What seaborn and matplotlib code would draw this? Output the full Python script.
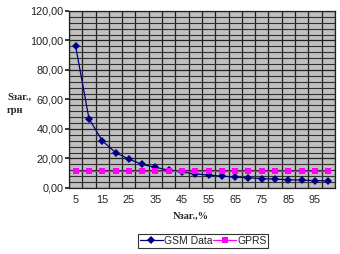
import matplotlib
matplotlib.use("Agg")
import matplotlib.pyplot as plt
import matplotlib.ticker as mticker
import numpy as np
import pandas as pd
import seaborn as sns
from matplotlib.lines import Line2D

n_percent = [5, 10, 15, 20, 25, 30, 35, 40, 45, 50, 55, 60, 65, 70, 75, 80, 85, 90, 95, 100]
gsm_data = [96.0, 47.0, 32.0, 24.0, 19.5, 16.0, 14.0, 12.0, 10.7, 9.6, 8.7, 8.0, 7.4, 6.9, 6.4, 6.0, 5.6, 5.3, 5.0, 4.8]
gprs = [11.5] * 20
y_ticks = [0, 20, 40, 60, 80, 100, 120]
x_tick_labels = [5, 15, 25, 35, 45, 55, 65, 75, 85, 95]

sns.set_theme(style="white")
plt.rcParams['font.family'] = ['Liberation Sans', 'DejaVu Sans']

df = pd.DataFrame({"N": n_percent * 2,
                   "S": gsm_data + gprs,
                   "series": ["GSM Data"] * 20 + ["GPRS"] * 20})

fig = plt.figure(figsize=(3.4, 2.54), dpi=100)
ax = fig.add_axes([0.203, 0.26, 0.782, 0.697])
ax.set_facecolor("#c0c0c0")

sns.lineplot(data=df, x="N", y="S", hue="series", style="series",
             palette={"GSM Data": "#000080", "GPRS": "#ff00ff"},
             markers={"GSM Data": "D", "GPRS": "s"}, dashes=False,
             markersize=4, linewidth=0.9, markeredgewidth=0, ax=ax, legend=False, zorder=3)

ax.set_xlim(2.5, 102.5)
ax.set_ylim(0, 120)
ax.set_xticks(x_tick_labels)
ax.set_xticklabels([str(v) for v in x_tick_labels])
ax.set_xticks(np.arange(2.5, 103, 5), minor=True)
ax.set_yticks(y_ticks)
ax.set_yticklabels([f"{v:.2f}".replace(".", ",") for v in y_ticks])
ax.yaxis.set_minor_locator(mticker.MultipleLocator(4))

ax.grid(which="minor", axis="x", color="#202020", linewidth=0.9)
ax.grid(which="major", axis="y", color="#202020", linewidth=0.9)
ax.grid(which="minor", axis="y", color="#303030", linewidth=0.8)
ax.set_axisbelow(True)

ax.tick_params(axis="x", which="major", length=0, labelsize=7.8, pad=5, colors="#222222")
ax.tick_params(axis="x", which="minor", length=3, direction="out", color="black")
ax.tick_params(axis="y", which="major", length=3, direction="out", labelsize=7.8, pad=1, colors="#222222", left=True)
ax.tick_params(axis="y", which="minor", length=0)
for s in ax.spines.values():
    s.set_color("#202020")
    s.set_linewidth(0.9)

ax.set_xlabel("")
ax.set_ylabel("")
fig.text(191 / 340, 1 - 216 / 254, "Nзаг.,%", ha="center", va="center",
         fontsize=7.5, fontweight="bold", family=["Liberation Serif", "DejaVu Serif"])
fig.text(7 / 340, 1 - 104 / 254, "Sзаг.,\nгрн", ha="left", va="center",
         fontsize=7.5, fontweight="bold", family=["Liberation Serif", "DejaVu Serif"], linespacing=1.7)

handles = [Line2D([], [], color="#000080", marker="D", markersize=4, markeredgewidth=0, linewidth=0.9),
           Line2D([], [], color="#ff00ff", marker="s", markersize=4, markeredgewidth=0, linewidth=0.9)]
leg = fig.legend(handles, ["GSM Data", "GPRS"], loc="center", bbox_to_anchor=(203 / 340, 1 - 241 / 254),
                 ncol=2, fontsize=7.5, frameon=True, fancybox=False, edgecolor="black",
                 handlelength=2.2, handletextpad=0.1, columnspacing=0.1, borderpad=0.15, borderaxespad=0)
leg.get_frame().set_linewidth(0.8)
for t in leg.get_texts():
    t.set_color("#222222")

fig.savefig("out.png", dpi=100, facecolor="white")
